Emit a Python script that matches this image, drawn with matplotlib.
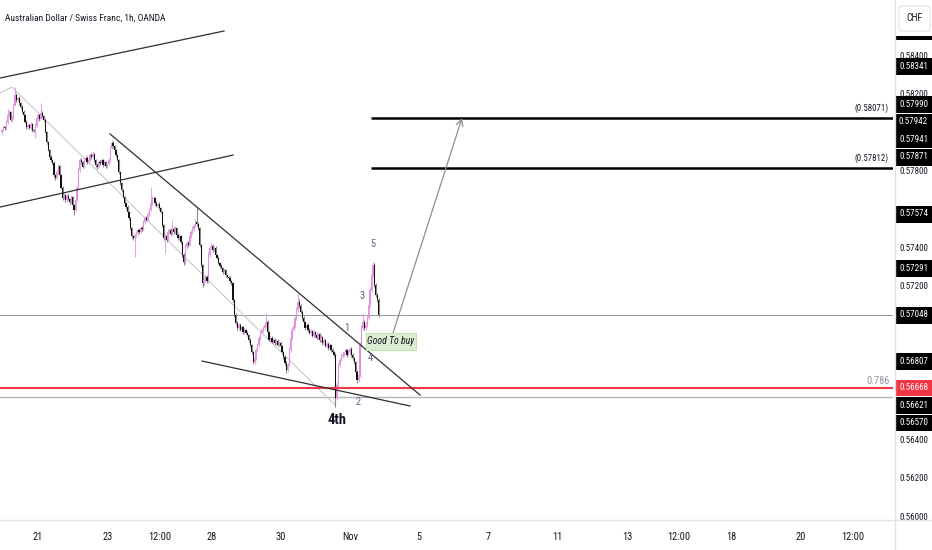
import matplotlib
matplotlib.use("Agg")
import matplotlib.pyplot as plt
import matplotlib.transforms as mtransforms
from matplotlib import font_manager
from matplotlib.patches import Rectangle, FancyBboxPatch
from matplotlib.lines import Line2D

# pick a narrow sans face if one is around, the platform font is condensed
fonts = font_manager.fontManager.ttflist
names = {f.name for f in fonts}
base_font = 'Roboto'
for cand in ['Roboto Condensed', 'Liberation Sans Narrow', 'Open Sans Condensed']:
    if cand in names:
        base_font = cand
        break
plt.rcParams['font.family'] = [base_font, 'Roboto', 'DejaVu Sans']

# ---- data: AUDCHF 1h candles ----
title = "Australian Dollar / Swiss Franc, 1h, OANDA"
first_open = 0.58000
bar_start = -25 / 24          # days from 21 Oct 00:00 (trading days only)
close = [
    0.58010, 0.58026, 0.58021, 0.58052, 0.58089, 0.58104, 0.58063, 0.58073, 0.58141, 0.58193,
    0.58167, 0.58177, 0.58151, 0.58130, 0.58104, 0.58089, 0.58052, 0.58026, 0.58036, 0.58021,
    0.58042, 0.58010, 0.58005, 0.58031, 0.58073, 0.58089, 0.58068, 0.58099, 0.58083, 0.58063,
    0.58000, 0.57948, 0.57906, 0.57870, 0.57854, 0.57839, 0.57776, 0.57760, 0.57792, 0.57823,
    0.57776, 0.57708, 0.57656, 0.57672, 0.57646, 0.57667, 0.57651, 0.57635, 0.57661, 0.57620,
    0.57594, 0.57646, 0.57708, 0.57802, 0.57854, 0.57844, 0.57818, 0.57854, 0.57865, 0.57844,
    0.57854, 0.57880, 0.57870, 0.57885, 0.57854, 0.57828, 0.57818, 0.57844, 0.57839, 0.57854,
    0.57828, 0.57844, 0.57823, 0.57833, 0.57854, 0.57917, 0.57943, 0.57927, 0.57906, 0.57880,
    0.57854, 0.57792, 0.57734, 0.57698, 0.57661, 0.57630, 0.57609, 0.57583, 0.57552, 0.57500,
    0.57458, 0.57448, 0.57464, 0.57474, 0.57490, 0.57479, 0.57500, 0.57495, 0.57531, 0.57552,
    0.57542, 0.57573, 0.57594, 0.57630, 0.57651, 0.57656, 0.57630, 0.57615, 0.57625, 0.57604,
    0.57583, 0.57516, 0.57448, 0.57458, 0.57438, 0.57479, 0.57490, 0.57469, 0.57495, 0.57479,
    0.57500, 0.57464, 0.57448, 0.57458, 0.57427, 0.57359, 0.57323, 0.57401, 0.57422, 0.57411,
    0.57458, 0.57479, 0.57495, 0.57510, 0.57531, 0.57521, 0.57500, 0.57411, 0.57307, 0.57214,
    0.57229, 0.57245, 0.57224, 0.57359, 0.57396, 0.57406, 0.57385, 0.57396, 0.57359, 0.57344,
    0.57318, 0.57302, 0.57292, 0.57271, 0.57281, 0.57255, 0.57245, 0.57240, 0.57224, 0.57214,
    0.57125, 0.57047, 0.57005, 0.56979, 0.56995, 0.56969, 0.56984, 0.56958, 0.56969, 0.56953,
    0.56943, 0.56917, 0.56891, 0.56854, 0.56802, 0.56823, 0.56865, 0.56891, 0.56927, 0.56953,
    0.56969, 0.56979, 0.56995, 0.57010, 0.56958, 0.56917, 0.56927, 0.56906, 0.56917, 0.56901,
    0.56911, 0.56891, 0.56901, 0.56885, 0.56854, 0.56828, 0.56797, 0.56760, 0.56786, 0.56865,
    0.56927, 0.56969, 0.56990, 0.57031, 0.57073, 0.57115, 0.57094, 0.57063, 0.57031, 0.57010,
    0.56979, 0.56995, 0.56969, 0.56953, 0.56964, 0.56938, 0.56958, 0.56943, 0.56927, 0.56948,
    0.56917, 0.56932, 0.56901, 0.56917, 0.56885, 0.56896, 0.56875, 0.56891, 0.56865, 0.56854,
    0.56839, 0.56615, 0.56682, 0.56786, 0.56813, 0.56833, 0.56844, 0.56854, 0.56865, 0.56839,
    0.56854, 0.56870, 0.56839, 0.56823, 0.56802, 0.56750, 0.56708, 0.56734, 0.56891, 0.56979,
    0.57010, 0.56979, 0.56995, 0.57031, 0.57099, 0.57177, 0.57255, 0.57307, 0.57203, 0.57151,
    0.57125, 0.57048,
]
# wick lengths beyond the body, in points (0.00001)
wick_up = [
    8, 10, 6, 12, 31, 9, 7, 11, 8, 41,
    10, 6, 9, 7, 12, 8, 6, 10, 9, 7,
    11, 6, 8, 14, 9, 12, 7, 52, 9, 6,
    8, 5, 7, 6, 9, 5, 8, 6, 10, 12,
    7, 6, 9, 10, 6, 12, 8, 7, 11, 6,
    5, 8, 10, 12, 9, 11, 6, 15, 13, 8,
    10, 12, 9, 15, 7, 6, 8, 11, 9, 10,
    7, 9, 6, 8, 10, 12, 14, 9, 7, 6,
    8, 5, 6, 7, 5, 8, 6, 9, 7, 5,
    6, 8, 10, 12, 9, 7, 11, 8, 10, 9,
    12, 10, 9, 84, 14, 11, 8, 9, 7, 10,
    6, 5, 7, 12, 9, 14, 10, 8, 47, 9,
    11, 7, 8, 10, 6, 5, 9, 14, 10, 12,
    9, 11, 13, 10, 15, 78, 12, 7, 6, 5,
    9, 11, 8, 14, 12, 15, 10, 9, 8, 7,
    9, 6, 8, 7, 10, 6, 8, 7, 9, 6,
    5, 6, 8, 10, 12, 9, 11, 8, 10, 7,
    9, 6, 8, 7, 6, 10, 12, 9, 11, 10,
    12, 9, 14, 47, 10, 8, 12, 9, 11, 8,
    10, 9, 8, 11, 7, 6, 8, 9, 12, 15,
    11, 13, 9, 12, 15, 46, 14, 10, 8, 9,
    7, 10, 8, 9, 12, 7, 10, 8, 9, 11,
    7, 10, 8, 12, 7, 9, 8, 11, 7, 9,
    6, 8, 14, 12, 10, 9, 11, 8, 12, 7,
    10, 12, 8, 9, 6, 7, 8, 12, 14, 16,
    47, 12, 15, 14, 18, 16, 12, 18, 10, 9,
    12, 8,
]
wick_dn = [
    9, 7, 11, 6, 8, 10, 7, 9, 6, 8,
    9, 7, 10, 8, 6, 9, 7, 8, 10, 6,
    8, 9, 7, 36, 6, 8, 10, 7, 9, 8,
    7, 9, 6, 8, 10, 7, 9, 8, 6, 10,
    8, 7, 9, 6, 10, 8, 7, 9, 11, 6,
    26, 8, 7, 6, 9, 10, 8, 7, 9, 11,
    8, 7, 9, 6, 10, 8, 9, 7, 11, 8,
    9, 7, 10, 8, 6, 9, 7, 8, 10, 9,
    7, 9, 8, 10, 7, 9, 8, 7, 9, 10,
    8, 10, 99, 9, 8, 11, 7, 9, 8, 10,
    8, 7, 9, 6, 8, 10, 9, 7, 8, 9,
    7, 9, 11, 78, 10, 8, 9, 7, 10, 8,
    9, 7, 10, 8, 9, 11, 16, 8, 9, 10,
    7, 9, 8, 10, 7, 9, 8, 10, 12, 21,
    9, 11, 8, 10, 9, 7, 8, 10, 9, 8,
    7, 9, 8, 10, 7, 9, 8, 7, 9, 10,
    11, 9, 10, 8, 9, 7, 10, 8, 9, 7,
    8, 10, 9, 11, 10, 9, 8, 7, 9, 8,
    7, 9, 8, 10, 9, 8, 10, 7, 9, 8,
    10, 8, 9, 7, 10, 9, 11, 15, 8, 7,
    9, 8, 7, 9, 8, 10, 9, 8, 10, 7,
    9, 8, 10, 7, 9, 8, 10, 9, 7, 8,
    10, 9, 8, 10, 7, 9, 8, 10, 9, 8,
    10, 45, 12, 10, 9, 8, 10, 9, 7, 9,
    8, 10, 9, 8, 10, 9, 15, 10, 8, 9,
    10, 9, 8, 10, 9, 8, 10, 9, 11, 8,
    9, 10,
]

# time axis (trading days from 21 Oct)
tick_days = [0, 2, 3.5, 5, 7, 9, 11, 13, 15, 17, 18.5, 20, 22, 23.5]
tick_text = ["21", "23", "12:00", "28", "30", "Nov", "5", "7", "11", "13", "12:00", "18", "20", "12:00"]
price_ticks = [0.560, 0.562, 0.564, 0.566, 0.568, 0.570, 0.572, 0.574, 0.576, 0.578, 0.580, 0.582, 0.584]

# drawings (day, price)
trend_lines = [
    [(-1.097, 0.58281), (5.368, 0.58526)],   # upper channel
    [(-1.097, 0.57609), (5.628, 0.57880)],   # lower channel
    [(2.078, 0.57990), (11.025, 0.56630)],   # wedge top
    [(4.733, 0.56807), (10.736, 0.56573)],   # wedge bottom
]
swing_line = [(-1.097, 0.58203), (-0.75, 0.58234), (8.571, 0.56578)]
targets = [0.58071, 0.57812]
target_from = 9.61
last_price = 0.57048
fib_786 = 0.56668
support = 0.56621
arrow_from = (10.245, 0.56953)
arrow_to = (12.237, 0.58073)
waves = [("1", 8.918, 0.56979), ("2", 9.235, 0.56594), ("3", 9.351, 0.57146),
         ("4", 9.582, 0.56823), ("5", 9.668, 0.57417)]
axis_tags = [0.58526, 0.58341, 0.57990, 0.57942, 0.57941, 0.57871, 0.57574,
             0.57291, 0.57048, 0.56807, 0.56668, 0.56621, 0.56570]

# ---- derived candle fields ----
t = [bar_start + i / 24 for i in range(len(close))]
opens = [first_open] + close[:-1]
hi = [max(o, c) + w * 1e-5 for o, c, w in zip(opens, close, wick_up)]
lo = [min(o, c) - w * 1e-5 for o, c, w in zip(opens, close, wick_dn)]
rising = [c >= o for o, c in zip(opens, close)]

UP, DOWN = '#e48fdd', '#111111'
UP_WICK, DOWN_WICK = '#e2a6e2', '#888888'
TXT = '#131722'
GRID = '#e0e3eb'

fig = plt.figure(figsize=(9.32, 5.5), dpi=100)
ax = fig.add_axes([0, 30 / 550, 893 / 932, 520 / 550])
ax.set_xlim(-1.097, 24.675)
ax.set_ylim(0.559792, 0.586875)
for s in ax.spines.values():
    s.set_visible(False)

# candles
ax.vlines([x for x, r in zip(t, rising) if r], [l for l, r in zip(lo, rising) if r],
          [h for h, r in zip(hi, rising) if r], color=UP_WICK, lw=0.8, zorder=2)
ax.vlines([x for x, r in zip(t, rising) if not r], [l for l, r in zip(lo, rising) if not r],
          [h for h, r in zip(hi, rising) if not r], color=DOWN_WICK, lw=0.8, zorder=2)
bottoms = [min(o, c) for o, c in zip(opens, close)]
heights = [max(abs(c - o), 0.000015) for o, c in zip(opens, close)]
ax.bar(t, heights, bottom=bottoms, width=0.85 / 24,
       color=[UP if r else DOWN for r in rising], linewidth=0, zorder=3)

# horizontal levels
ax.axhline(last_price, color='#9598a1', lw=0.7, zorder=1)
ax.axhline(support, color='#b2b5be', lw=1.0, zorder=1)
ax.axhline(fib_786, color='#f23645', lw=1.5, zorder=4)
ax.annotate("0.786", (0.9966, fib_786), xycoords=('axes fraction', 'data'),
            xytext=(0, 1), textcoords='offset points', ha='right', va='bottom',
            fontsize=7.5, color='#9598a1')
for lvl in targets:
    ax.plot([target_from, 24.675], [lvl, lvl], color='black', lw=1.8, zorder=4,
            solid_capstyle='butt')
    ax.annotate(f"({lvl:.5f})", (0.9955, lvl), xycoords=('axes fraction', 'data'),
                xytext=(0, 4), textcoords='offset points', ha='right', va='bottom',
                fontsize=6.3, color=TXT)

# trend lines
for seg in trend_lines:
    ax.plot([p[0] for p in seg], [p[1] for p in seg], color='#2f2f2f', lw=0.9, zorder=4)
ax.plot([p[0] for p in swing_line], [p[1] for p in swing_line], color='#c9c9c9', lw=0.8, zorder=1)

# projection arrow
ax.annotate("", xy=arrow_to, xytext=arrow_from,
            arrowprops=dict(arrowstyle='->', color='#8d8d8d', lw=0.9,
                            mutation_scale=12, shrinkA=0, shrinkB=0), zorder=5)

# "Good To buy" tag
ax.add_patch(Rectangle((9.466, 0.56865), 1.443, 0.00088, facecolor='#dcefd2',
                       edgecolor='#c3e3b0', lw=0.8, zorder=5))
ax.text(10.19, 0.56909, "Good To buy", ha='center', va='center', fontsize=7,
        style='italic', color=TXT, zorder=6)

for lab, x, y in waves:
    ax.text(x, y, lab, ha='center', va='center', fontsize=7.5, color='#5d6190', zorder=6)
ax.text(8.629, 0.56500, "4th", ha='center', va='center', fontsize=10.5,
        fontweight='bold', color=TXT, zorder=6)

# time axis
ax.set_xticks(tick_days)
ax.set_xticklabels(tick_text)
ax.tick_params(axis='x', length=0, pad=9, labelsize=7.5, labelcolor=TXT)

# price tags on the scale: stack away from the last price like the platform does
tag_h = 0.00091
tag_pos = {}
prev = last_price
for v in sorted(v for v in axis_tags if v > last_price):
    tag_pos[v] = max(v, prev + tag_h)
    prev = tag_pos[v]
prev = last_price
for v in sorted((v for v in axis_tags if v < last_price), reverse=True):
    tag_pos[v] = min(v, prev - tag_h)
    prev = tag_pos[v]
tag_pos[last_price] = last_price

# price axis: a scale value sitting right under a tag is not drawn
ax.yaxis.tick_right()
ax.set_yticks(price_ticks)
ax.set_yticklabels(["" if any(abs(p - y) < tag_h * 0.6 for y in tag_pos.values())
                    else f"{p:.5f}" for p in price_ticks])
ax.tick_params(axis='y', length=0, pad=5, labelsize=6.5, labelcolor=TXT)

blend = mtransforms.blended_transform_factory(ax.transAxes, ax.transData)
for v in axis_tags:
    y = tag_pos[v]
    face = '#f23645' if v == fib_786 else '#000000'
    ax.add_patch(Rectangle((895 / 893, y - tag_h / 2), 37 / 893, tag_h * 0.96,
                           transform=blend, facecolor=face, edgecolor='none',
                           clip_on=False, zorder=7))
    ax.text(913.5 / 893, y, f"{v:.5f}", transform=blend, ha='center', va='center',
            fontsize=6.5, color='white', clip_on=False, zorder=8)

# top of the price scale: blank strip with the currency box
fig.patches.append(Rectangle((896 / 932, 1 - 36 / 550), 36 / 932, 36 / 550,
                             transform=fig.transFigure, facecolor='white',
                             edgecolor='none', zorder=9))
fig.patches.append(FancyBboxPatch((899 / 932, 1 - 31 / 550), 31 / 932, 25 / 550,
                                  boxstyle='round,pad=0,rounding_size=0.004',
                                  transform=fig.transFigure, facecolor='white',
                                  edgecolor=GRID, lw=0.8, zorder=10))
fig.text(914.5 / 932, 1 - 18 / 550, "CHF", ha='center', va='center', fontsize=7,
         color=TXT, zorder=11)

# pane separators
fig.add_artist(Line2D([0, 1], [30 / 550, 30 / 550], color=GRID, lw=1))
fig.add_artist(Line2D([895 / 932, 895 / 932], [0, 1], color=GRID, lw=1))

fig.text(5 / 932, 1 - 18 / 550, title, ha='left', va='center', fontsize=6.8, color=TXT)

fig.savefig("out.png", dpi=100)
